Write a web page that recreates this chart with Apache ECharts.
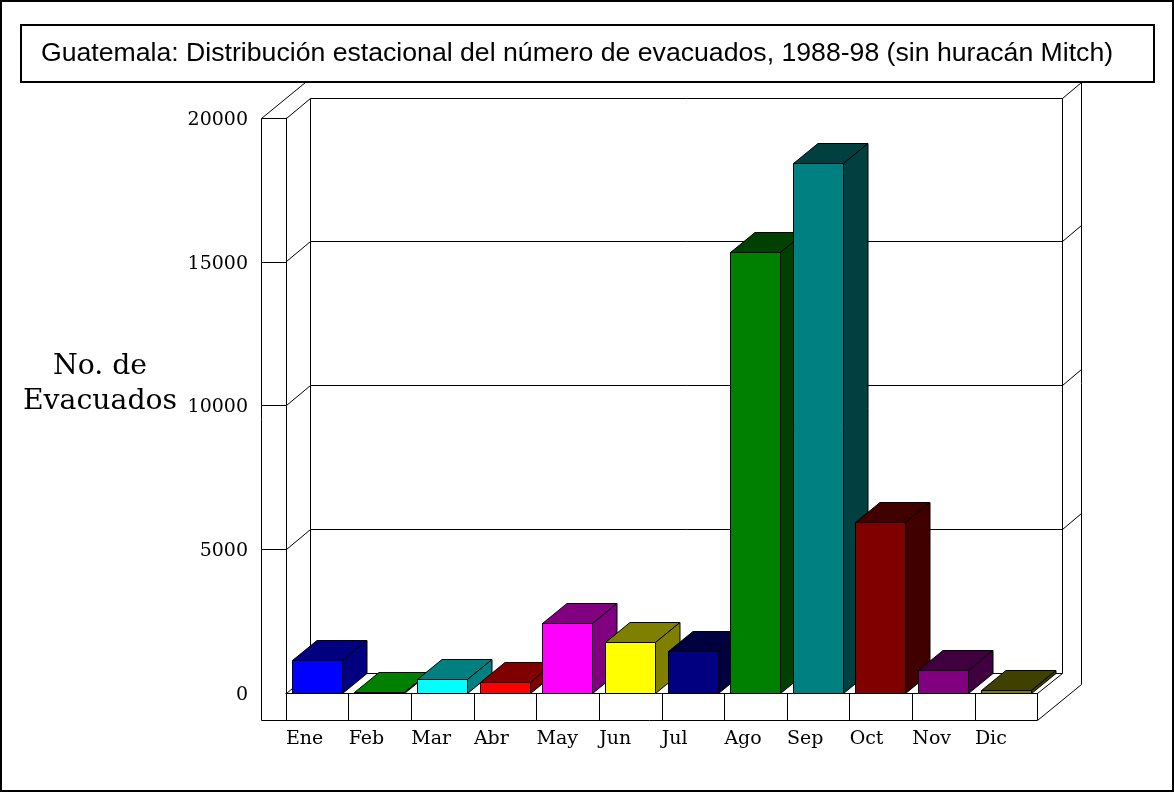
<!DOCTYPE html>
<html>
<head>
<meta charset="utf-8">
<script src="https://cdn.jsdelivr.net/npm/echarts@6/dist/echarts.min.js"></script>
<style>
  html, body { margin: 0; padding: 0; background: #fff; }
  #main { width: 1174px; height: 792px; }
</style>
</head>
<body>
<div id="main"></div>
<script>
const months = ["Ene", "Feb", "Mar", "Abr", "May", "Jun", "Jul", "Ago", "Sep", "Oct", "Nov", "Dic"];
const evacuados = [1130, 25, 480, 355, 2410, 1750, 1450, 15320, 18430, 5930, 790, 87];
const barColors = ["#0000ff", "#00ff00", "#00ffff", "#ff0000", "#ff00ff", "#ffff00",
  "#000080", "#008000", "#008080", "#800000", "#800080", "#808000"];
const darkColors = ["#000080", "#008000", "#008080", "#800000", "#800080", "#808000",
  "#000040", "#004000", "#004040", "#400000", "#400040", "#404000"];
const yTicks = [0, 5000, 10000, 15000, 20000];

const titleText = "Guatemala: Distribución estacional del número de evacuados, 1988-98 (sin huracán Mitch)";
const yName = "No. de\nEvacuados";
const serif = "DejaVu Serif";

// fake 3d: how far the back wall and the outer wall sit from the front plane
const depthX = 24.5;
const depthY = -20;
const wallX = 19.5;
const wallY = -16;

const snap = v => Math.round(v - 0.5) + 0.5;
const lineStyle = { stroke: "#000", lineWidth: 1, fill: null };

function seg(x1, y1, x2, y2) {
  return {
    type: "line",
    shape: { x1: snap(x1), y1: snap(y1), x2: snap(x2), y2: snap(y2) },
    style: lineStyle
  };
}

function renderFrame(params, api) {
  let left = api.coord([0, 0])[0];
  let right = api.coord([12, 0])[0];
  let base = api.coord([0, 0])[1];
  let top = api.coord([0, 20000])[1];
  let outerLeft = left - depthX;
  let outerBottom = base + 27;
  let backLeft = left + depthX;
  let backRight = right + depthX;
  let farRight = backRight + wallX;
  let children = [
    seg(outerLeft, top, outerLeft, outerBottom),
    seg(outerLeft, outerBottom, right, outerBottom),
    seg(outerLeft, top, outerLeft + depthX + wallX, top + depthY + wallY),
    seg(right, outerBottom, farRight, outerBottom + depthY + wallY),
    seg(farRight, top + depthY + wallY, farRight, outerBottom + depthY + wallY),
    seg(backLeft, top + depthY, backLeft, base + depthY),
    seg(backRight, top + depthY, backRight, base + depthY),
    seg(right, base, backRight, base + depthY)
  ];
  yTicks.forEach(v => {
    let y = api.coord([0, v])[1];
    children.push(seg(left, y, backLeft, y + depthY));
    children.push(seg(backLeft, y + depthY, backRight, y + depthY));
    if (v > 0) {
      children.push(seg(backRight, y + depthY, farRight, y + depthY + wallY));
    }
  });
  return { type: "group", children: children };
}

function renderBar(params, api) {
  let i = api.value(0);
  let v = api.value(1);
  let a = api.coord([i + 0.1, v]);
  let b = api.coord([i + 0.9, 0]);
  let x1 = snap(a[0]);
  let x2 = snap(b[0]);
  let y1 = snap(a[1]);
  let y2 = snap(b[1]);
  let poly = (points, fill) => ({
    type: "polygon",
    shape: { points: points },
    style: { fill: fill, stroke: "#000", lineWidth: 1 }
  });
  return {
    type: "group",
    children: [
      poly([[x1, y1], [x2, y1], [x2 + depthX, y1 + depthY], [x1 + depthX, y1 + depthY]], darkColors[i]),
      poly([[x2, y1], [x2 + depthX, y1 + depthY], [x2 + depthX, y2 + depthY], [x2, y2]], darkColors[i]),
      poly([[x1, y1], [x2, y1], [x2, y2], [x1, y2]], barColors[i])
    ]
  };
}

let chart = echarts.init(document.getElementById("main"));
chart.setOption({
  animation: false,
  backgroundColor: "#fff",
  title: [
    {
      text: titleText,
      left: 21,
      top: 25,
      padding: [15, 41, 15, 20],
      backgroundColor: "#fff",
      borderColor: "#000",
      borderWidth: 2,
      textStyle: {
        color: "#000",
        fontFamily: "Liberation Sans",
        fontWeight: "normal",
        fontSize: 26.65
      }
    },
    {
      text: yName,
      left: 100,
      top: 349,
      textAlign: "center",
      padding: 0,
      textStyle: {
        color: "#000",
        fontFamily: serif,
        fontWeight: "normal",
        fontSize: 28.3,
        lineHeight: 35
      }
    }
  ],
  graphic: [{
    type: "rect",
    silent: true,
    shape: { x: 1, y: 1, width: 1172, height: 790 },
    style: { fill: null, stroke: "#000", lineWidth: 2 }
  }],
  grid: { left: 286, right: 136.5, top: 118, bottom: 99, outerBoundsMode: "none" },
  xAxis: {
    type: "value",
    min: 0,
    max: 12,
    interval: 1,
    splitLine: { show: false },
    axisLine: { show: true, lineStyle: { color: "#000", width: 1 } },
    axisTick: { show: true, length: 27, lineStyle: { color: "#000", width: 1 } },
    axisLabel: {
      color: "#000",
      fontFamily: serif,
      fontSize: 19,
      align: "left",
      margin: 37,
      formatter: v => months[v] || ""
    }
  },
  yAxis: {
    type: "value",
    min: 0,
    max: 20000,
    interval: 5000,
    splitLine: { show: false },
    axisLine: { show: true, lineStyle: { color: "#000", width: 1 } },
    axisTick: {
      show: true,
      length: 24.5,
      customValues: yTicks.slice(1),
      lineStyle: { color: "#000", width: 1 }
    },
    axisLabel: {
      color: "#000",
      fontFamily: serif,
      fontSize: 19,
      margin: 38,
      verticalAlign: "top",
      lineHeight: 4,
      formatter: v => String(v)
    }
  },
  series: [
    {
      type: "custom",
      silent: true,
      clip: false,
      z: 1,
      renderItem: renderFrame,
      data: [[0, 0]]
    },
    {
      type: "custom",
      name: "Evacuados",
      clip: false,
      z: 3,
      renderItem: renderBar,
      encode: { x: 0, y: 1 },
      data: evacuados.map((v, i) => [i, v])
    }
  ]
});
</script>
</body>
</html>
